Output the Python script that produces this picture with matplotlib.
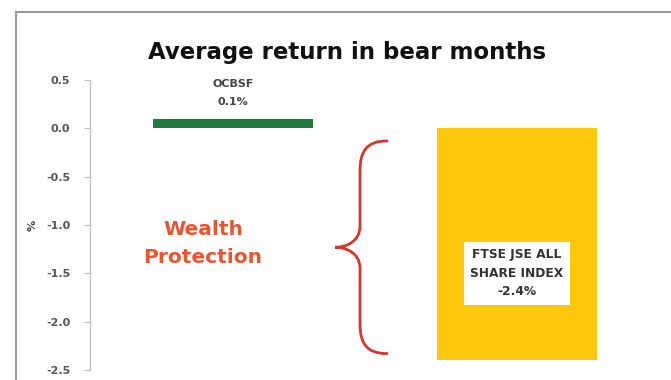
import numpy as np
import matplotlib.pyplot as plt
from matplotlib.path import Path
from matplotlib.patches import PathPatch, Rectangle

# data
categories = ["OCBSF", "FTSE JSE ALL\nSHARE INDEX"]
returns = [0.1, -2.4]
bar_colors = ["#1f7a3c", "#fdc80c"]
yticks = [0.5, 0.0, -0.5, -1.0, -1.5, -2.0, -2.5]

fig = plt.figure(figsize=(6.71, 3.80), dpi=100)
ax = fig.add_axes([0.134, 0.0263, 0.848, 0.763])

x = np.arange(len(categories))
ax.bar(x, returns, width=0.565, color=bar_colors)

ax.set_xlim(-0.503, 1.5)
ax.set_ylim(-2.5, 0.5)
ax.set_yticks(yticks)
ax.set_yticklabels(["%.1f" % v for v in yticks], fontsize=8, color="#555555",
                   fontweight="bold")
ax.tick_params(axis="y", length=4, width=0.8, color="#bbbbbb", pad=10)
ax.set_xticks([])
for s in ["top", "right", "bottom"]:
    ax.spines[s].set_visible(False)
ax.spines["left"].set_color("#bbbbbb")
ax.spines["left"].set_linewidth(0.9)

ax.set_ylabel("%", fontsize=8, color="#444444", fontweight="bold", labelpad=6)

# bar labels
ax.text(x[0], returns[0] + 0.12, "%s\n%.1f%%" % (categories[0], returns[0]),
        ha="center", va="bottom", fontsize=8, fontweight="bold", color="#444444",
        linespacing=2.0)
ax.text(x[1], -1.5, "%s\n%.1f%%" % (categories[1], returns[1]),
        ha="center", va="center", fontsize=8.8, fontweight="bold", color="#333333",
        linespacing=1.55,
        bbox=dict(boxstyle="square,pad=0.55", facecolor="white", edgecolor="none"))

# curly brace between the two bars
top = returns[0] - 0.23
bot = returns[1] + 0.07
mid = (top + bot) / 2
h = (top - bot) / 2
x0, x1 = 0.36, 0.543
u = lambda f: x0 + f * (x1 - x0)
verts = [(u(1), top),
         (u(0.6), top), (u(0.48), mid + 0.9 * h), (u(0.48), mid + 0.72 * h),
         (u(0.48), mid + 0.2 * h),
         (u(0.48), mid + 0.05 * h), (u(0.2), mid), (u(0), mid),
         (u(0.2), mid), (u(0.48), mid - 0.05 * h), (u(0.48), mid - 0.2 * h),
         (u(0.48), mid - 0.72 * h),
         (u(0.48), mid - 0.9 * h), (u(0.6), bot), (u(1), bot)]
codes = [Path.MOVETO,
         Path.CURVE4, Path.CURVE4, Path.CURVE4,
         Path.LINETO,
         Path.CURVE4, Path.CURVE4, Path.CURVE4,
         Path.CURVE4, Path.CURVE4, Path.CURVE4,
         Path.LINETO,
         Path.CURVE4, Path.CURVE4, Path.CURVE4]
ax.add_patch(PathPatch(Path(verts, codes), facecolor="none", edgecolor="#d8342b",
                       linewidth=2.0, capstyle="round"))

ax.text(-0.105, mid + 0.04, "Wealth\nProtection", ha="center", va="center",
        fontsize=14.5, fontweight="bold", color="#e8562f", linespacing=1.6)

fig.text(0.517, 0.863, "Average return in bear months", ha="center", va="center",
         fontsize=16.5, fontweight="bold", color="#111111")

# frame around the slide
fig.patches.append(Rectangle((16 / 671, -0.1), 1.2, (380 - 12) / 380 + 0.1,
                             transform=fig.transFigure, facecolor="none",
                             edgecolor="#999999", linewidth=1.5))

fig.savefig("out.png", dpi=100)
